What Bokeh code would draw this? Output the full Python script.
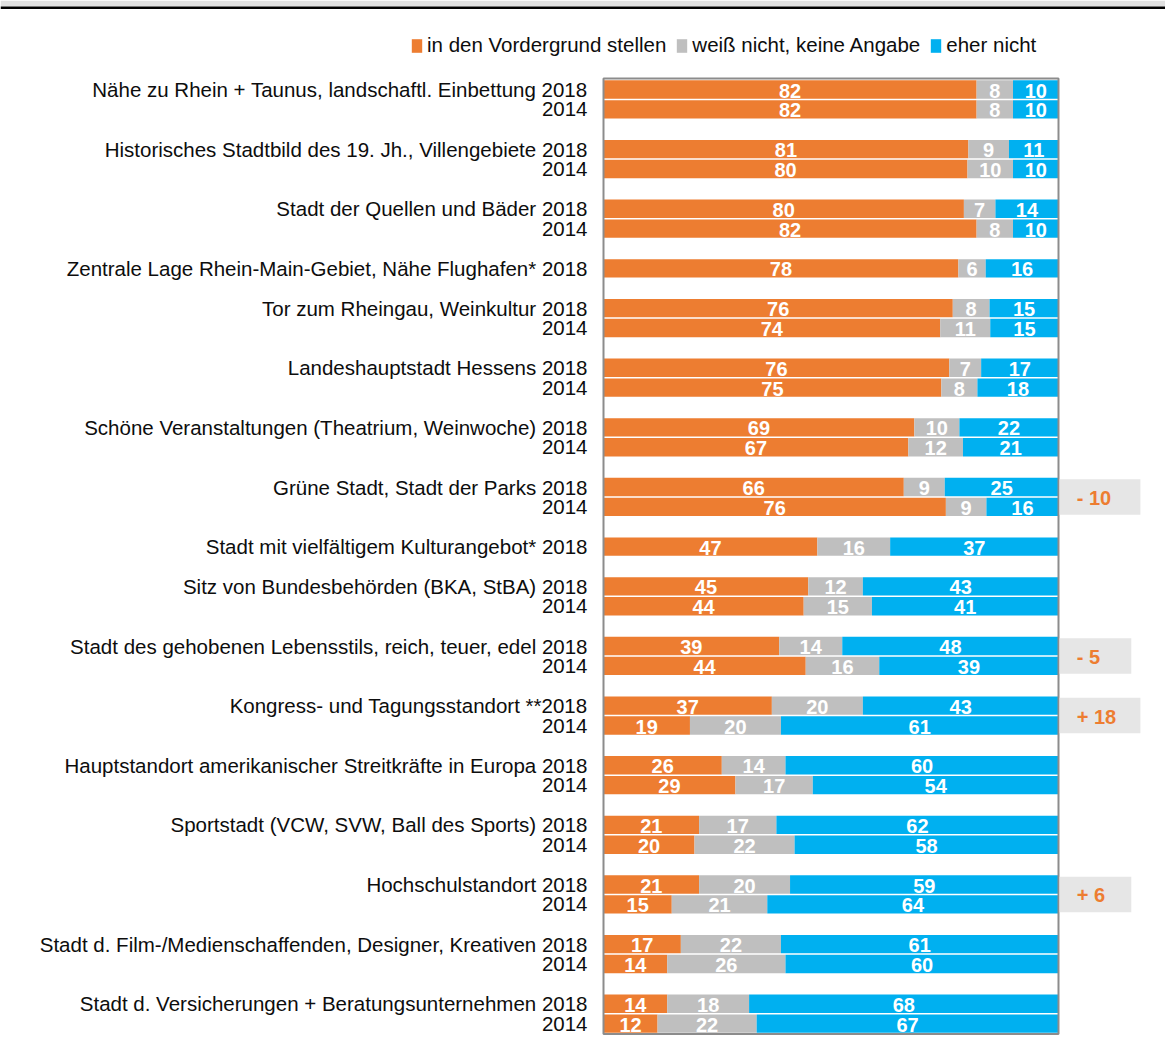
from bokeh.plotting import figure
from bokeh.models import ColumnDataSource, Range1d, Legend, LegendItem
from bokeh.embed import file_html
from bokeh.resources import INLINE
from bokeh.core.properties import value

names = [
    "Nähe zu Rhein + Taunus, landschaftl. Einbettung",
    "Historisches Stadtbild des 19. Jh., Villengebiete",
    "Stadt der Quellen und Bäder",
    "Zentrale Lage Rhein-Main-Gebiet, Nähe Flughafen*",
    "Tor zum Rheingau, Weinkultur",
    "Landeshauptstadt Hessens",
    "Schöne Veranstaltungen (Theatrium, Weinwoche)",
    "Grüne Stadt, Stadt der Parks",
    "Stadt mit vielfältigem Kulturangebot*",
    "Sitz von Bundesbehörden (BKA, StBA)",
    "Stadt des gehobenen Lebensstils, reich, teuer, edel",
    "Kongress- und Tagungsstandort **",
    "Hauptstandort amerikanischer Streitkräfte in Europa",
    "Sportstadt (VCW, SVW, Ball des Sports)",
    "Hochschulstandort",
    "Stadt d. Film-/Medienschaffenden, Designer, Kreativen",
    "Stadt d. Versicherungen + Beratungsunternehmen",
]
years = ["2018", "2014"]
series = ["in den Vordergrund stellen", "weiß nicht, keine Angabe", "eher nicht"]

vorder_2018 = [82, 81, 80, 78, 76, 76, 69, 66, 47, 45, 39, 37, 26, 21, 21, 17, 14]
weiss_2018 = [8, 9, 7, 6, 8, 7, 10, 9, 16, 12, 14, 20, 14, 17, 20, 22, 18]
eher_2018 = [10, 11, 14, 16, 15, 17, 22, 25, 37, 43, 48, 43, 60, 62, 59, 61, 68]
vorder_2014 = [82, 80, 82, None, 74, 75, 67, 76, None, 44, 44, 19, 29, 20, 15, 14, 12]
weiss_2014 = [8, 10, 8, None, 11, 8, 12, 9, None, 15, 16, 20, 17, 22, 21, 26, 22]
eher_2014 = [10, 10, 10, None, 15, 18, 21, 16, None, 41, 39, 61, 54, 58, 64, 60, 67]
change = ["", "", "", "", "", "", "", "- 10", "", "", "- 5", "+ 18", "", "", "+ 6", "", ""]

colors = ["#ED7D31", "#BFBFBF", "#00B0F0"]
FONT = "Liberation Sans"
FS = "20.5px"

# ---- build rows (one row per bar, one empty row between categories)
rows = []
diff_rows = []
r = 0
for i, nm in enumerate(names):
    sep = "" if nm.endswith("**") else " "
    first = r
    rows.append((r, nm + sep + years[0], [vorder_2018[i], weiss_2018[i], eher_2018[i]]))
    r += 1
    if vorder_2014[i] is not None:
        rows.append((r, years[1], [vorder_2014[i], weiss_2014[i], eher_2014[i]]))
        r += 1
    if change[i]:
        diff_rows.append(((first + r - 1) / 2.0, change[i]))
    r += 1
n_rows = r - 1

data = {"y": [row[0] for row in rows], "name": [row[1] for row in rows]}
lab = {"x": [], "y": [], "t": []}
for k in range(3):
    data[f"l{k}"] = []
    data[f"r{k}"] = []
for (y, _, vals) in rows:
    tot = float(sum(vals))
    acc = 0.0
    for k, v in enumerate(vals):
        w = v / tot * 100
        data[f"l{k}"].append(acc)
        data[f"r{k}"].append(acc + w)
        lab["x"].append(acc + w / 2)
        lab["y"].append(y)
        lab["t"].append(str(v))
        acc += w
src = ColumnDataSource(data)

# ---- geometry of the canvas (pixels -> data units)
W, H = 1165, 1044
PX_X = 4.55          # pixels per percent
X0 = 603             # pixel column of 0 %
PITCH = 19.875       # pixels per bar row
Y0 = 89              # pixel row of the first bar centre
x_start = -X0 / PX_X
x_end = (W - X0) / PX_X
y_top = -Y0 / PITCH
y_bot = y_top + H / PITCH

p = figure(width=W, height=H, output_backend="svg", toolbar_location=None,
           x_range=Range1d(x_start, x_end), y_range=Range1d(y_bot, y_top),
           x_axis_location=None, y_axis_location=None, min_border=0)
p.outline_line_color = None
p.xgrid.visible = False
p.ygrid.visible = False

# header band and rule
p.quad(left=[x_start], right=[x_end], top=[y_top], bottom=[y_top + 6 / PITCH],
       fill_color="#E0E0E0", line_color=None)
p.quad(left=[x_start], right=[x_end], top=[y_top + 6 / PITCH], bottom=[y_top + 8.5 / PITCH],
       fill_color="black", line_color=None)

renderers = []
for k in range(3):
    rr = p.hbar(y="y", left=f"l{k}", right=f"r{k}", height=0.92, source=src,
                fill_color=colors[k], line_color=None)
    renderers.append(rr)

p.text(x="x", y="y", text="t", source=ColumnDataSource(lab), text_color="white",
       text_font=value(FONT), text_font_style="bold", text_font_size="20px",
       text_align="center", text_baseline="middle", y_offset=1)

# category labels (right aligned next to the bars)
p.text(x=-16 / PX_X, y="y", text="name", source=src, text_color="#0d0d0d",
       text_font=value(FONT), text_font_size=FS,
       text_align="right", text_baseline="middle")

# frame border
p.quad(left=[0], right=[100], top=[-0.55], bottom=[n_rows - 0.48],
       fill_color=None, line_color="#8C8C8C", line_width=2)

# change boxes
if diff_rows:
    dsrc = ColumnDataSource({
        "y": [d[0] for d in diff_rows],
        "t": [d[1] for d in diff_rows],
        "r": [110 + 2 * len(d[1]) for d in diff_rows],
    })
    p.hbar(y="y", left=100.25, right="r", height=1.78, source=dsrc,
           fill_color="#E6E6E6", line_color=None)
    p.text(x=104, y="y", text="t", source=dsrc, text_color="#ED7D31",
           text_font=value(FONT), text_font_style="bold", text_font_size="20px",
           text_align="left", text_baseline="middle", y_offset=1)

legend = Legend(items=[LegendItem(label=series[k], renderers=[renderers[k]]) for k in range(3)],
                orientation="horizontal", location=(410, H - 57),
                glyph_width=13, glyph_height=17, label_standoff=4, spacing=9,
                padding=0, margin=0, border_line_color=None, background_fill_alpha=0,
                label_text_font=FONT, label_text_font_size=FS, label_text_color="#0d0d0d")
p.add_layout(legend, "center")

open("out.html", "w").write(file_html(p, INLINE))
